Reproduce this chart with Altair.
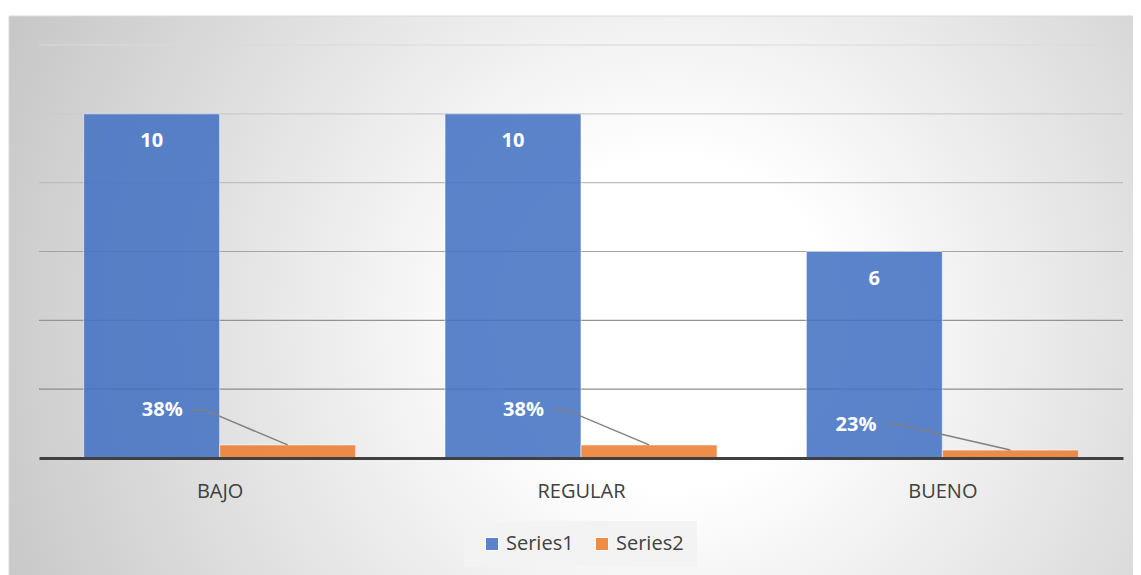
import json
import altair as alt
import pandas as pd

# ---- data ----
categories = ["BAJO", "REGULAR", "BUENO"]
series1 = [10, 10, 6]
series2 = [0.38, 0.38, 0.23]
series_names = ["Series1", "Series2"]
series_colors = ["#4472C4", "#ED7D31"]
grid_values = [2, 4, 6, 8, 10, 12]
grid_colors = ["#8c8c8c", "#939393", "#a4a4a4", "#bdbdbd", "#cbcbcb", "#dadada"]

rows = []
for i, c in enumerate(categories):
    rows.append({"cat": c, "idx": i, "series": series_names[0], "value": series1[i]})
    rows.append({"cat": c, "idx": i, "series": series_names[1], "value": series2[i]})
df = pd.DataFrame(rows)

W, H = 1084, 413
BW = 0.3764  # bar width in category units
FONT = "Open Sans"
TXT = "#404040"

x_scale = alt.Scale(domain=[-0.5, len(categories) - 0.5], nice=False, zero=False, padding=0)
y_scale = alt.Scale(domain=[0, 12], nice=False, padding=0)

x_axis = alt.Axis(
    values=list(range(len(categories))),
    labelExpr=f"{json.dumps(categories)}[datum.value]",
    ticks=False, grid=False, title=None,
    domainColor=TXT, domainWidth=3,
    labelFont=FONT, labelFontSize=20, labelColor=TXT, labelPadding=23,
    zindex=1,
)

# ---- background with radial gradient ----
bg = alt.Chart(pd.DataFrame({"k": [0]})).mark_rect(
    fill=alt.RadialGradient(
        gradient="radial",
        stops=[
            alt.GradientStop(offset=0, color="#ffffff"),
            alt.GradientStop(offset=0.2, color="#ffffff"),
            alt.GradientStop(offset=1, color="#bdbdbd"),
        ],
        x1=0.58, y1=0.52, r1=0,
        x2=0.58, y2=0.52, r2=0.72,
    ),
    stroke="#d9d9d9", strokeWidth=1,
).encode(
    x=alt.value(-30), x2=alt.value(1110), y=alt.value(-29), y2=alt.value(540)
)

# ---- gridlines ----
grid = alt.Chart(pd.DataFrame({"gv": grid_values})).mark_rule(strokeWidth=1.2).encode(
    y=alt.Y("gv:Q", scale=y_scale, axis=None),
    x=alt.value(0), x2=alt.value(W),
    stroke=alt.Stroke("gv:O", scale=alt.Scale(domain=grid_values, range=grid_colors), legend=None),
)

base = alt.Chart(df)

# ---- bars ----
bars = base.transform_calculate(
    x0=f"datum.idx + (datum.series == '{series_names[0]}' ? -{BW} : 0)",
    x1=f"datum.idx + (datum.series == '{series_names[0]}' ? 0 : {BW})",
).mark_rect(opacity=0.87, stroke="#ffffff", strokeOpacity=0.6, strokeWidth=1).encode(
    x=alt.X("x0:Q", scale=x_scale, axis=x_axis),
    x2="x1:Q",
    y=alt.Y("value:Q", scale=y_scale, axis=None),
    y2=alt.datum(0),
    color=alt.Color(
        "series:N",
        scale=alt.Scale(domain=series_names, range=series_colors),
        legend=alt.Legend(
            orient="none", legendX=425, legendY=476, direction="horizontal",
            title=None, fillColor="#f3f3f3", padding=13,
            symbolType="square", symbolSize=169, symbolOpacity=0.87,
            symbolStrokeColor="#ffffff", symbolStrokeWidth=1, symbolOffset=5,
            labelFont=FONT, labelFontSize=20, labelColor=TXT, labelOffset=4,
            columnPadding=13,
        ),
    ),
)

# ---- Series1 labels ----
s1_labels = base.transform_filter(f"datum.series == '{series_names[0]}'").transform_calculate(
    lx=f"datum.idx - {BW / 2}"
).mark_text(color="white", fontWeight="bold", fontSize=20, font=FONT, baseline="middle", dy=27).encode(
    x=alt.X("lx:Q", scale=x_scale, axis=x_axis),
    y=alt.Y("value:Q", scale=y_scale, axis=None),
    text=alt.Text("value:Q"),
)

# ---- Series2 labels (placed off the bar with leader lines) ----
last = categories[-1]
s2 = base.transform_filter(f"datum.series == '{series_names[1]}'").transform_calculate(
    lx=f"datum.idx + (datum.cat == '{last}' ? -0.239 : -0.159)",
    ly=f"datum.value + (datum.cat == '{last}' ? 0.74 : 1.01)",
)

s2_labels = s2.mark_text(color="white", fontWeight="bold", fontSize=20, font=FONT, baseline="middle").encode(
    x=alt.X("lx:Q", scale=x_scale, axis=x_axis),
    y=alt.Y("ly:Q", scale=y_scale, axis=None),
    text=alt.Text("value:Q", format=".0%"),
)

leaders = s2.transform_calculate(
    pa="datum.lx + 0.083",
    pb="datum.lx + 0.119",
    pc=f"datum.idx + {BW / 2}",
).transform_fold(["pa", "pb", "pc"], as_=["pt", "px"]).transform_calculate(
    py="datum.pt == 'pc' ? datum.value : datum.ly"
).mark_line(color="#808080", strokeWidth=1.5).encode(
    x=alt.X("px:Q", scale=x_scale, axis=x_axis),
    y=alt.Y("py:Q", scale=y_scale, axis=None),
    detail="cat:N",
    order="pt:N",
)

chart = alt.layer(bg, grid, bars, leaders, s1_labels, s2_labels).properties(
    width=W, height=H,
    padding={"left": 31, "top": 37, "right": 10, "bottom": 117},
    autosize=alt.AutoSizeParams(type="none"),
    background="white",
).configure_view(stroke=None)

chart.save("out.html", embed_options={"renderer": "svg", "actions": False})
